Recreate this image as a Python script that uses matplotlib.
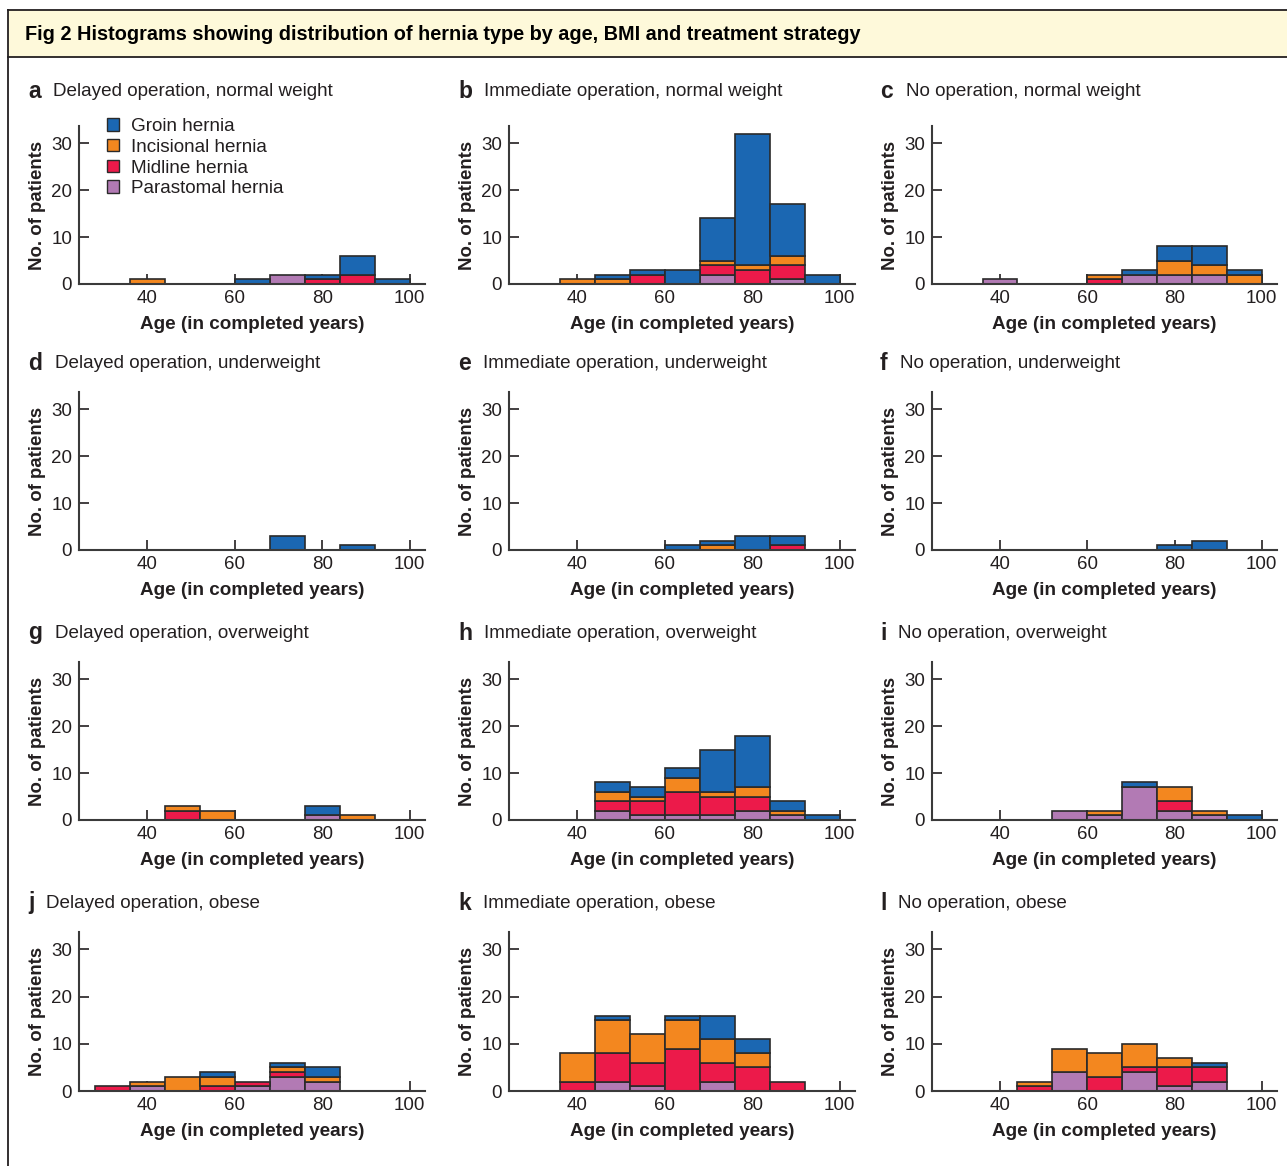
import matplotlib
matplotlib.use('Agg')
import matplotlib.pyplot as plt
from matplotlib.patches import Rectangle, Patch
from matplotlib.lines import Line2D
import numpy as np

plt.rcParams['font.family'] = ['Liberation Sans', 'DejaVu Sans']

# ---------------- data ----------------
# bins: 28-36, 36-44, 44-52, 52-60, 60-68, 68-76, 76-84, 84-92, 92-100
bin_edges = [28, 36, 44, 52, 60, 68, 76, 84, 92, 100]
hernia_types = ['Groin hernia', 'Incisional hernia', 'Midline hernia', 'Parastomal hernia']
x_ticks = [40, 60, 80, 100]
y_ticks = [0, 10, 20, 30]

a_groin      = [0, 0, 0, 0, 1, 0, 1, 4, 1]
a_incisional = [0, 1, 0, 0, 0, 0, 0, 0, 0]
a_midline    = [0, 0, 0, 0, 0, 0, 1, 2, 0]
a_parastomal = [0, 0, 0, 0, 0, 2, 0, 0, 0]

b_groin      = [0, 0, 1, 1, 3, 9, 28, 11, 2]
b_incisional = [0, 1, 1, 0, 0, 1, 1, 2, 0]
b_midline    = [0, 0, 0, 2, 0, 2, 3, 3, 0]
b_parastomal = [0, 0, 0, 0, 0, 2, 0, 1, 0]

c_groin      = [0, 0, 0, 0, 0, 1, 3, 4, 1]
c_incisional = [0, 0, 0, 0, 1, 0, 3, 2, 2]
c_midline    = [0, 0, 0, 0, 1, 0, 0, 0, 0]
c_parastomal = [0, 1, 0, 0, 0, 2, 2, 2, 0]

d_groin      = [0, 0, 0, 0, 0, 3, 0, 1, 0]
d_incisional = [0, 0, 0, 0, 0, 0, 0, 0, 0]
d_midline    = [0, 0, 0, 0, 0, 0, 0, 0, 0]
d_parastomal = [0, 0, 0, 0, 0, 0, 0, 0, 0]

e_groin      = [0, 0, 0, 0, 1, 1, 3, 2, 0]
e_incisional = [0, 0, 0, 0, 0, 1, 0, 0, 0]
e_midline    = [0, 0, 0, 0, 0, 0, 0, 1, 0]
e_parastomal = [0, 0, 0, 0, 0, 0, 0, 0, 0]

f_groin      = [0, 0, 0, 0, 0, 0, 1, 2, 0]
f_incisional = [0, 0, 0, 0, 0, 0, 0, 0, 0]
f_midline    = [0, 0, 0, 0, 0, 0, 0, 0, 0]
f_parastomal = [0, 0, 0, 0, 0, 0, 0, 0, 0]

g_groin      = [0, 0, 0, 0, 0, 0, 2, 0, 0]
g_incisional = [0, 0, 1, 2, 0, 0, 0, 1, 0]
g_midline    = [0, 0, 2, 0, 0, 0, 0, 0, 0]
g_parastomal = [0, 0, 0, 0, 0, 0, 1, 0, 0]

h_groin      = [0, 0, 2, 2, 2, 9, 11, 2, 1]
h_incisional = [0, 0, 2, 1, 3, 1, 2, 1, 0]
h_midline    = [0, 0, 2, 3, 5, 4, 3, 0, 0]
h_parastomal = [0, 0, 2, 1, 1, 1, 2, 1, 0]

i_groin      = [0, 0, 0, 0, 0, 1, 0, 0, 1]
i_incisional = [0, 0, 0, 0, 1, 0, 3, 1, 0]
i_midline    = [0, 0, 0, 0, 0, 0, 2, 0, 0]
i_parastomal = [0, 0, 0, 2, 1, 7, 2, 1, 0]

j_groin      = [0, 0, 0, 1, 0, 1, 2, 0, 0]
j_incisional = [0, 1, 3, 2, 0, 1, 1, 0, 0]
j_midline    = [1, 0, 0, 1, 1, 1, 0, 0, 0]
j_parastomal = [0, 1, 0, 0, 1, 3, 2, 0, 0]

k_groin      = [0, 0, 1, 0, 1, 5, 3, 0, 0]
k_incisional = [0, 6, 7, 6, 6, 5, 3, 0, 0]
k_midline    = [0, 2, 6, 5, 9, 4, 5, 2, 0]
k_parastomal = [0, 0, 2, 1, 0, 2, 0, 0, 0]

l_groin      = [0, 0, 0, 0, 0, 0, 0, 1, 0]
l_incisional = [0, 0, 1, 5, 5, 5, 2, 0, 0]
l_midline    = [0, 0, 1, 0, 3, 1, 4, 3, 0]
l_parastomal = [0, 0, 0, 4, 0, 4, 1, 2, 0]

panel_letters = ['a', 'b', 'c', 'd', 'e', 'f', 'g', 'h', 'i', 'j', 'k', 'l']
panel_titles = [
    'Delayed operation, normal weight', 'Immediate operation, normal weight', 'No operation, normal weight',
    'Delayed operation, underweight', 'Immediate operation, underweight', 'No operation, underweight',
    'Delayed operation, overweight', 'Immediate operation, overweight', 'No operation, overweight',
    'Delayed operation, obese', 'Immediate operation, obese', 'No operation, obese',
]
panel_data = {
    'a': (a_groin, a_incisional, a_midline, a_parastomal),
    'b': (b_groin, b_incisional, b_midline, b_parastomal),
    'c': (c_groin, c_incisional, c_midline, c_parastomal),
    'd': (d_groin, d_incisional, d_midline, d_parastomal),
    'e': (e_groin, e_incisional, e_midline, e_parastomal),
    'f': (f_groin, f_incisional, f_midline, f_parastomal),
    'g': (g_groin, g_incisional, g_midline, g_parastomal),
    'h': (h_groin, h_incisional, h_midline, h_parastomal),
    'i': (i_groin, i_incisional, i_midline, i_parastomal),
    'j': (j_groin, j_incisional, j_midline, j_parastomal),
    'k': (k_groin, k_incisional, k_midline, k_parastomal),
    'l': (l_groin, l_incisional, l_midline, l_parastomal),
}

# ---------------- style ----------------
W, H = 1287, 1166
DPI = 100
TXT = '#231f20'
EDGE = '#2a2a2a'
colors = {'Groin hernia': '#1b67b2', 'Incisional hernia': '#f3871f',
          'Midline hernia': '#ec1a4a', 'Parastomal hernia': '#b27ab4'}

fig = plt.figure(figsize=(W / DPI, H / DPI), dpi=DPI)
fig.patch.set_facecolor('white')

def fx(px):
    return px / W

def fy(py):
    return 1 - py / H

# header band
fig.add_artist(Rectangle((fx(8), fy(57)), 1 - fx(8), fy(10) - fy(57),
                         transform=fig.transFigure, facecolor='#fef9da',
                         edgecolor='none', zorder=0))
for yy in (10, 57):
    fig.add_artist(Line2D([fx(8), 1], [fy(yy), fy(yy)], transform=fig.transFigure,
                          color=TXT, lw=1.3))
fig.add_artist(Line2D([fx(8), fx(8)], [fy(10), 0], transform=fig.transFigure,
                      color=TXT, lw=1.3))
fig.text(fx(25), fy(35), 'Fig 2 Histograms showing distribution of hernia type by age, BMI and treatment strategy',
         fontsize=14.3, fontweight='bold', color='black', va='center', ha='left')

# layout (pixels)
col_left = [79, 509, 932]
col_right = [425, 855, 1277]
row_top = [126, 392, 662, 932]
row_bottom = [284, 550, 820, 1091]
title_y = [91, 363, 633, 903]
letter_x = [28, 458, 880]
title_x = {'a': 53, 'b': 484, 'c': 906, 'd': 55, 'e': 483, 'f': 900,
           'g': 55, 'h': 484, 'i': 898, 'j': 46, 'k': 483, 'l': 898}

FS = 13.6
lefts = np.array(bin_edges[:-1])
widths = np.diff(bin_edges)

for idx, letter in enumerate(panel_letters):
    r, c = divmod(idx, 3)
    ax = fig.add_axes([fx(col_left[c]), fy(row_bottom[r]),
                       fx(col_right[c] - col_left[c]), (row_bottom[r] - row_top[r]) / H])
    bottom = np.zeros(len(lefts))
    series = panel_data[letter]
    order = [3, 2, 1, 0]  # stack from parastomal (bottom) up to groin (top)
    for si in order:
        vals = np.array(series[si], dtype=float)
        name = hernia_types[si]
        m = vals > 0
        ax.bar(lefts[m], vals[m], width=widths[m], bottom=bottom[m], align='edge',
               color=colors[name], edgecolor=EDGE, linewidth=1.2, zorder=2)
        bottom += vals
    ax.set_xlim(24.4, 103.5)
    ax.set_ylim(0, 33.7)
    ax.set_xticks(x_ticks)
    ax.set_yticks(y_ticks)
    ax.tick_params(direction='in', length=7, width=1.2, color=TXT, labelcolor=TXT,
                   labelsize=13.5, pad=5)
    ax.tick_params(axis='x', pad=4)
    for s in ('top', 'right'):
        ax.spines[s].set_visible(False)
    for s in ('left', 'bottom'):
        ax.spines[s].set_color('#3a3a3a')
        ax.spines[s].set_linewidth(1.5)
        ax.spines[s].set_zorder(3)
    ax.set_xlabel('Age (in completed years)', fontsize=FS, fontweight='bold', color=TXT, labelpad=7)
    ax.set_ylabel('No. of patients', fontsize=13.4, fontweight='bold', color=TXT, labelpad=4)
    ax.patch.set_alpha(0)

    fig.text(fx(letter_x[c]), fy(title_y[r]), letter, fontsize=16.5, fontweight='bold',
             color=TXT, va='center', ha='left')
    fig.text(fx(title_x[letter]), fy(title_y[r]), panel_titles[idx], fontsize=FS,
             color=TXT, va='center', ha='left')

    if letter == 'a':
        leg_handles = [Patch(facecolor=colors[n], edgecolor=EDGE, linewidth=1.0) for n in hernia_types]
        ax.legend(leg_handles, hernia_types, loc='upper left',
                  bbox_to_anchor=(fx(107), fy(118)), bbox_transform=fig.transFigure,
                  frameon=False, fontsize=FS, handlelength=0.65, handleheight=0.65,
                  handletextpad=0.6, labelspacing=0.2, borderaxespad=0, borderpad=0,
                  labelcolor=TXT)

fig.savefig('out.png', dpi=DPI, facecolor='white')
